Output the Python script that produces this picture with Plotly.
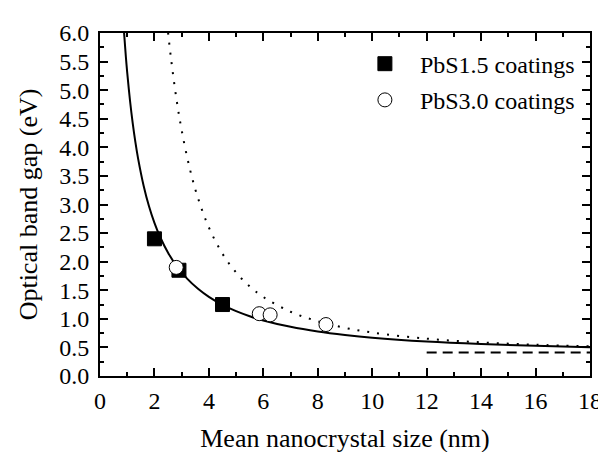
import plotly.graph_objects as go

pbs15_size = [2.0, 2.9, 4.5]
pbs15_gap = [2.4, 1.85, 1.25]
pbs30_size = [2.8, 5.85, 6.25, 8.3]
pbs30_gap = [1.9, 1.09, 1.07, 0.9]

solid_size = [0.88, 0.95, 1.0, 1.1, 1.2, 1.3, 1.4, 1.6, 1.8, 2.0, 2.2, 2.5, 2.8, 3.2, 3.6,
              4.0, 4.5, 5.0, 5.5, 6.0, 7.0, 8.0, 9.0, 10.0, 12.0, 14.0, 16.0, 18.0]
solid_gap = [6.03, 5.585, 5.307, 4.828, 4.429, 4.091, 3.802, 3.333, 2.968, 2.677, 2.44, 2.156,
             1.934, 1.704, 1.526, 1.385, 1.245, 1.135, 1.046, 0.972, 0.86, 0.778, 0.717,
             0.669, 0.602, 0.558, 0.527, 0.504]

dot_size = [2.5, 2.6, 2.8, 3.0, 3.3, 3.6, 4.0, 4.5, 5.0, 5.5, 6.0, 7.0, 8.0, 9.0, 10.0,
            12.0, 14.0, 16.0, 18.0]
dot_gap = [6.01, 5.588, 4.874, 4.299, 3.624, 3.111, 2.598, 2.138, 1.81, 1.567, 1.382, 1.124,
           0.957, 0.842, 0.76, 0.653, 0.589, 0.547, 0.518]

# Bulk band gap (dashed)
bulk_size = [12.0, 18.0]
bulk_gap = [0.41, 0.41]

FONT = "Liberation Serif"

fig = go.Figure()
fig.add_trace(go.Scatter(x=dot_size, y=dot_gap, mode="lines", showlegend=False,
                         line=dict(color="black", width=2, dash="2px,8px", shape="spline")))
fig.add_trace(go.Scatter(x=solid_size, y=solid_gap, mode="lines", showlegend=False,
                         line=dict(color="black", width=2, shape="spline")))
fig.add_trace(go.Scatter(x=bulk_size, y=bulk_gap, mode="lines", showlegend=False,
                         line=dict(color="black", width=2, dash="10px,6px")))
fig.add_trace(go.Scatter(x=pbs15_size, y=pbs15_gap, mode="markers", name="PbS1.5 coatings",
                         legendgroup="a",
                         marker=dict(symbol="square", size=14, color="black",
                                     line=dict(color="black", width=1))))
fig.add_trace(go.Scatter(x=pbs30_size, y=pbs30_gap, mode="markers", name="PbS3.0 coatings",
                         legendgroup="b",
                         marker=dict(symbol="circle", size=14, color="white",
                                     line=dict(color="black", width=1))))

axis_common = dict(showgrid=False, zeroline=False, showline=True, linecolor="black",
                   linewidth=2, mirror="allticks", ticks="inside", ticklen=8,
                   tickwidth=1.5, tickcolor="black",
                   tickfont=dict(family=FONT, size=24, color="black"))

fig.update_xaxes(range=[0, 18], dtick=2, tick0=0, ticklabelstandoff=2,
                 minor=dict(dtick=1, ticks="inside", ticklen=4, tickcolor="black", tickwidth=1.5),
                 title=dict(text="Mean nanocrystal size (nm)",
                            font=dict(family=FONT, size=26, color="black"), standoff=16),
                 **axis_common)
fig.update_yaxes(range=[0, 6], dtick=0.5, tick0=0, tickformat=".1f", ticklabelstandoff=4,
                 minor=dict(dtick=0.25, ticks="inside", ticklen=4, tickcolor="black", tickwidth=1.5),
                 title=dict(text="Optical band gap (eV)",
                            font=dict(family=FONT, size=26, color="black"), standoff=14),
                 **axis_common)

fig.update_layout(
    width=606, height=452,
    margin=dict(l=92, r=14, t=18, b=74),
    paper_bgcolor="white", plot_bgcolor="white",
    legend=dict(x=0.51, y=0.975, xanchor="left", yanchor="top",
                traceorder="grouped", tracegroupgap=2, itemwidth=60,
                font=dict(family=FONT, size=24, color="black"),
                bgcolor="rgba(0,0,0,0)"),
)

fig.write_html("out.html")
